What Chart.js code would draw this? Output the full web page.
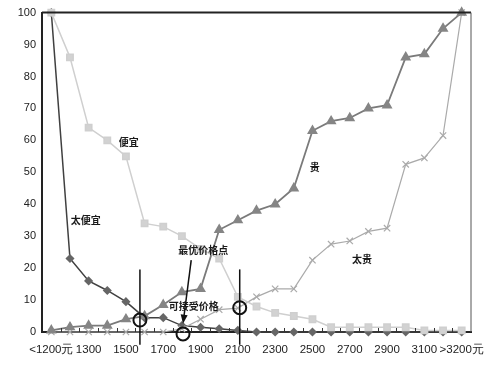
<!DOCTYPE html>
<html>
<head>
<meta charset="utf-8">
<script src="https://cdn.jsdelivr.net/npm/chart.js@4/dist/chart.umd.min.js"></script>
<style>
  html, body { margin: 0; padding: 0; background: #fff; }
  #wrap { width: 498px; height: 372px; }
</style>
</head>
<body>
<div id="wrap"><canvas id="psmChart"></canvas></div>
<script>
// Price levels (元)
const prices = ['<1200元', '1200', '1300', '1400', '1500', '1600', '1700', '1800', '1900', '2000', '2100',
    '2200', '2300', '2400', '2500', '2600', '2700', '2800', '2900', '3000', '3100', '3200', '>3200元'];

// Cumulative percentages
const tooCheap = [100, 23, 16, 13, 9.5, 4.5, 4.5, 2, 1.5, 1, 0.5, 0, 0, 0, 0, 0, 0, 0, 0, 0, 0, 0, 0];
const cheap = [100, 86, 64, 60, 55, 34, 33, 30, 26, 23, 11, 8, 6, 5, 4, 1.5, 1.5, 1.5, 1.5, 1.5, 0.5, 0.5, 0.5];
const expensive = [0.5, 1.5, 2, 2, 4, 5, 8.5, 12.5, 13.5, 32, 35, 38, 40, 45, 63, 66, 67, 70, 71, 86, 87, 95, 100];
const tooExpensive = [0, 0, 0, 0, 0, 0, 0, 1, 4, 7, 7.5, 11, 13.5, 13.5, 22.5, 27.5, 28.5, 31.5, 32.5, 52.5, 54.5, 61.5, 100];

// Annotations, in axis units (category index, percent)
const notes = [
    { text: '便宜', x: 4.15, y: 59.5 },
    { text: '太便宜', x: 1.84, y: 35 },
    { text: '贵', x: 14.12, y: 51.7 },
    { text: '太贵', x: 16.65, y: 22.8 },
    { text: '最优价格点', x: 8.14, y: 25.6 },
    { text: '可接受价格', x: 7.63, y: 8.1 }
];
const guideLines = [4.75, 10.1];
const circles = [[4.75, 3.75], [7.06, -0.6], [10.1, 7.6]];
const arrow = { from: [7.5, 22.5], to: [7.06, 2.6] };

Chart.defaults.font.family = "'Liberation Sans', Arial, sans-serif";
Chart.defaults.font.size = 11;
Chart.defaults.color = '#222';

const annotate = {
    id: 'annotate',
    afterDatasetsDraw(chart) {
        const c = chart.ctx, xs = chart.scales.x, ys = chart.scales.y, a = chart.chartArea;
        const px = v => xs.getPixelForValue(v), py = v => ys.getPixelForValue(v);
        c.save();
        // frame top and right
        c.strokeStyle = '#222';
        c.lineWidth = 2;
        c.beginPath(); c.moveTo(a.left, a.top); c.lineTo(a.right, a.top); c.stroke();
        c.strokeStyle = '#555';
        c.lineWidth = 1;
        c.beginPath(); c.moveTo(a.right, a.top); c.lineTo(a.right, a.bottom); c.stroke();
        // small inner ticks between categories
        c.strokeStyle = '#333';
        for (let i = 0; i < prices.length - 1; i++) {
            const x = Math.round((px(i) + px(i + 1)) / 2) + 0.5;
            c.beginPath(); c.moveTo(x, a.bottom); c.lineTo(x, a.bottom - 4); c.stroke();
        }
        // vertical guide lines
        c.strokeStyle = '#111';
        c.lineWidth = 1.5;
        guideLines.forEach(g => {
            c.beginPath(); c.moveTo(px(g), py(19.6)); c.lineTo(px(g), py(-4)); c.stroke();
        });
        // circles
        c.lineWidth = 2;
        circles.forEach(p => {
            c.beginPath(); c.arc(px(p[0]), py(p[1]), 6.5, 0, Math.PI * 2); c.stroke();
        });
        // arrow
        const x1 = px(arrow.from[0]), y1 = py(arrow.from[1]), x2 = px(arrow.to[0]), y2 = py(arrow.to[1]);
        const ang = Math.atan2(y2 - y1, x2 - x1);
        c.lineWidth = 1.5;
        c.beginPath(); c.moveTo(x1, y1); c.lineTo(x2 - Math.cos(ang) * 6, y2 - Math.sin(ang) * 6); c.stroke();
        c.fillStyle = '#111';
        c.beginPath();
        c.moveTo(x2, y2);
        c.lineTo(x2 - Math.cos(ang) * 9 + Math.sin(ang) * 3.5, y2 - Math.sin(ang) * 9 - Math.cos(ang) * 3.5);
        c.lineTo(x2 - Math.cos(ang) * 9 - Math.sin(ang) * 3.5, y2 - Math.sin(ang) * 9 + Math.cos(ang) * 3.5);
        c.closePath(); c.fill();
        // text labels
        c.font = "bold 10px 'Noto Sans CJK SC', sans-serif";
        c.fillStyle = '#1a1a1a';
        c.textAlign = 'center';
        c.textBaseline = 'middle';
        notes.forEach(n => c.fillText(n.text, px(n.x), py(n.y)));
        c.restore();
    }
};

const ctx = document.getElementById('psmChart').getContext('2d');
const myChart = new Chart(ctx, {
    type: 'line',
    data: {
        labels: prices,
        datasets: [
            {
                label: '太便宜',
                data: tooCheap,
                borderColor: '#404040',
                backgroundColor: '#666666',
                pointBorderColor: '#666666',
                borderWidth: 1.5,
                pointStyle: 'rectRot',
                pointRadius: 3.5,
                tension: 0,
                clip: false,
                order: 4
            },
            {
                label: '贵',
                data: expensive,
                borderColor: '#7a7a7a',
                backgroundColor: '#858585',
                pointBorderColor: '#858585',
                borderWidth: 1.8,
                pointStyle: 'triangle',
                pointRadius: 4.5,
                tension: 0,
                clip: false,
                order: 2
            },
            {
                label: '太贵',
                data: tooExpensive,
                borderColor: '#aaaaaa',
                backgroundColor: '#aaaaaa',
                borderWidth: 1.2,
                pointStyle: 'crossRot',
                pointRadius: 4.5,
                pointBorderWidth: 1.2,
                tension: 0,
                clip: false,
                order: 3
            },
            {
                label: '便宜',
                data: cheap,
                borderColor: '#cfcfcf',
                backgroundColor: '#d2d2d2',
                borderWidth: 1.5,
                pointStyle: 'rect',
                pointRadius: 4.5,
                tension: 0,
                clip: false,
                order: 1
            }
        ]
    },
    options: {
        responsive: true,
        maintainAspectRatio: false,
        animation: false,
        layout: { padding: { top: 12, right: 27, bottom: 0, left: 0 } },
        plugins: {
            legend: { display: false },
            tooltip: { enabled: false }
        },
        scales: {
            x: {
                offset: true,
                grid: { display: false, drawTicks: false },
                border: { color: '#222', width: 2 },
                ticks: {
                    autoSkip: false,
                    maxRotation: 0,
                    padding: 11,
                    font: { size: 11.5 },
                    callback: function(value, index) {
                        return index % 2 === 0 ? prices[index] : '';
                    }
                },
                afterFit: function(scale) { scale.height = 40; }
            },
            y: {
                min: 0,
                max: 100,
                grid: { display: false, drawTicks: false },
                border: { color: '#222', width: 2 },
                ticks: { stepSize: 10, padding: 6 },
                afterFit: function(scale) { scale.width = 42; }
            }
        }
    },
    plugins: [annotate]
});
</script>
</body>
</html>
